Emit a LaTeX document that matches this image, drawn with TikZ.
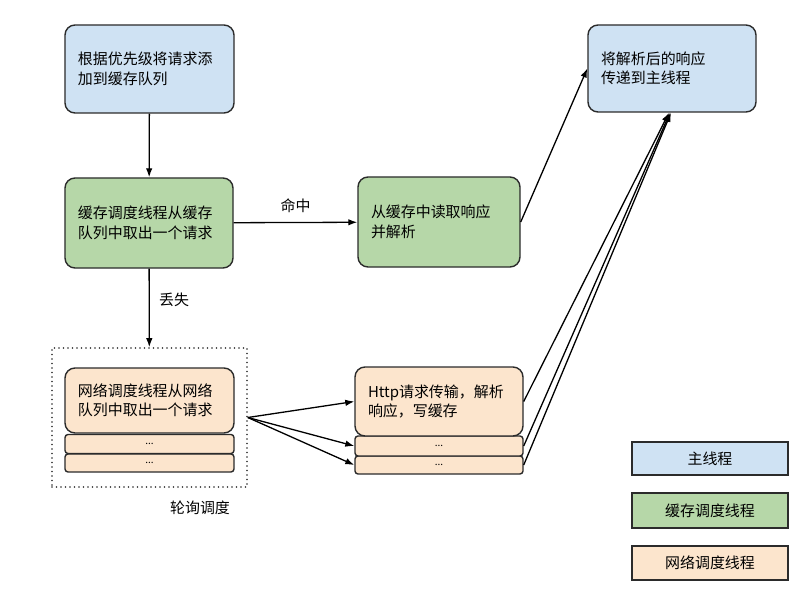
\documentclass[tikz,border=0pt]{standalone}
\usepackage{fontspec}
\setmainfont{Noto Sans CJK SC}
\usepackage{xcolor}
\usetikzlibrary{arrows.meta}

\definecolor{mainblue}{HTML}{CFE2F3}
\definecolor{cachegreen}{HTML}{B6D7A8}
\definecolor{netorange}{HTML}{FCE5CD}
\definecolor{edge}{HTML}{2B2B2B}

\begin{document}
\begin{tikzpicture}[x=1bp,y=-1bp,
    font=\fontsize{15}{19.5}\selectfont,
    box/.style={draw=edge,line width=1.4bp,rounded corners=10bp,inner xsep=13bp,inner ysep=0pt,align=left},
    slot/.style={draw=edge,line width=1.4bp,rounded corners=3bp,inner sep=0pt,font=\fontsize{10}{10}\selectfont},
    legend/.style={draw=edge,line width=1.4bp,minimum width=156bp,inner sep=0pt},
    arr/.style={draw=black,line width=1.3bp,-{Latex[length=9bp,width=6.5bp]}}]
                \useasboundingbox (0,0) rectangle (800,600);

                \node (a) at (149.5,69) [box,fill=mainblue,text width=143bp,minimum height=88bp] {根据优先级将请求添\\加到缓存队列};
                \node (b) at (149,223) [box,fill=cachegreen,text width=142bp,minimum height=90bp] {缓存调度线程从缓存\\队列中取出一个请求};
                \node (c) at (439,222) [box,fill=cachegreen,text width=136bp,minimum height=90bp] {从缓存中读取响应\\并解析};
                \node (d) at (672,68.5) [box,fill=mainblue,text width=142bp,minimum height=87bp] {将解析后的响应\\传递到主线程};

                \node (poll) at (149.5,417.5) [draw=edge,line width=1.6bp,line cap=round,dash pattern=on 0bp off 4.5bp,minimum width=195bp,minimum height=139bp] {};
                \node (pl) at (200,508) {轮询调度};

                \node (n2) at (149.5,463) [slot,fill=netorange,minimum width=169bp,minimum height=18bp] {...};
                \node (n1) at (149.5,444) [slot,fill=netorange,minimum width=169bp,minimum height=19bp] {...};
                \node (n) at (149.5,400.5) [box,fill=netorange,text width=143bp,minimum height=65bp] {网络调度线程从网络\\队列中取出一个请求};

                \node (h2) at (439,465) [slot,fill=netorange,minimum width=168bp,minimum height=18bp] {...};
                \node (h1) at (439,446) [slot,fill=netorange,minimum width=168bp,minimum height=20bp] {...};
                \node (h) at (439,401.5) [box,fill=netorange,text width=142bp,minimum height=69bp] {Http请求传输，解析\\响应，写缓存};

                \node (l1) at (710,458.5) [legend,fill=mainblue,minimum height=33bp] {主线程};
                \node (l2) at (710,510.5) [legend,fill=cachegreen,minimum height=35bp] {缓存调度线程};
                \node (l3) at (710,563) [legend,fill=netorange,minimum height=34bp] {网络调度线程};

                \draw[arr] (a) -- (b);
                \draw[arr] (b) -- node[above=6bp] {命中} (c);
                \draw[arr] (b) -- node[right=6bp,pos=0.4] {丢失} (poll);
                \draw[arr] (poll.east) -- (h.west);
                \draw[arr] (poll.east) -- (h1.west);
                \draw[arr] (poll.east) -- (h2.west);
                \draw[arr] (c.east) -- (d.west);
                \draw[arr] (h.east) -- ([xshift=-3bp]d.south);
                \draw[arr] (h1.east) -- ([xshift=-2bp]d.south);
                \draw[arr] (h2.east) -- ([xshift=-1bp]d.south);

            \end{tikzpicture}
\end{document}
